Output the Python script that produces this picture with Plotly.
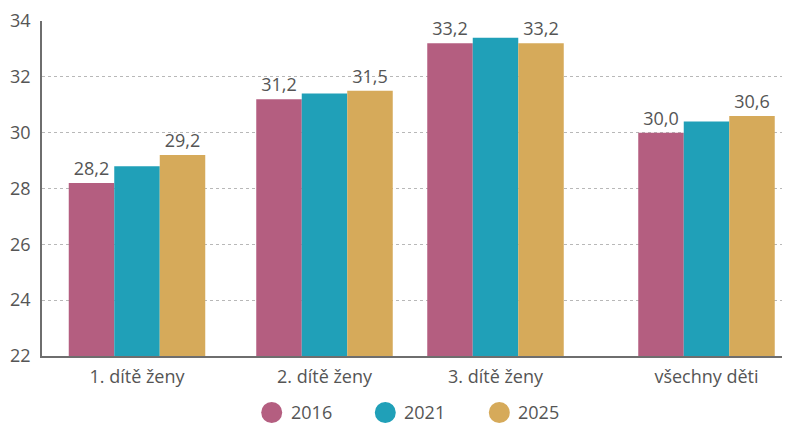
import plotly.graph_objects as go

# ---- data ----
categories = ["1. dítě ženy", "2. dítě ženy", "3. dítě ženy", "všechny děti"]
years = ["2016", "2021", "2025"]
values_2016 = [28.2, 31.2, 33.2, 30.0]
values_2021 = [28.8, 31.4, 33.4, 30.4]
values_2025 = [29.2, 31.5, 33.2, 30.6]
show_labels = [True, False, True]
y_ticks = [22, 24, 26, 28, 30, 32, 34]

# ---- layout constants ----
# page body has an 8px default margin, so the figure is drawn at (8, 8)
OFF = 8
W, H = 790 - OFF, 423 - OFF
L, R, T, B = 42 - OFF, 0, 21 - OFF, 67
group_pos = [95, 282.5, 453.5, 664.5]   # group centres on a pixel-like x scale
colors = ["#B45E80", "#20A0B8", "#D6AA5A"]
text_color = "#555555"
FONT = "Open Sans"

series = [values_2016, values_2021, values_2025]

fig = go.Figure()
for name, vals, col, lab in zip(years, series, colors, show_labels):
    txt = [f"{v:.1f}".replace(".", ",") if lab else "" for v in vals]
    fig.add_trace(go.Bar(
        x=group_pos, y=vals, name=name,
        marker=dict(color=col, line=dict(width=0)),
        text=txt, textposition="outside", cliponaxis=False,
        textfont=dict(family=FONT, size=18, color=text_color),
        showlegend=False, hoverinfo="skip",
    ))

# manual legend with circle markers (page pixel positions)
legend_cx = [271.7, 385.3, 499.3]
legend_cy = 412.5
plot_w = W - L - R
plot_h = H - T - B
for name, col, cx in zip(years, colors, legend_cx):
    xp = (cx - OFF - L) / plot_w
    yp = (H - B - (legend_cy - OFF)) / plot_h
    fig.add_shape(type="circle", xref="paper", yref="paper",
                  xsizemode="pixel", ysizemode="pixel",
                  xanchor=xp, yanchor=yp, x0=-10.5, x1=10.5, y0=-10.5, y1=10.5,
                  fillcolor=col, line=dict(width=0))
    fig.add_annotation(xref="paper", yref="paper",
                       x=(cx + 17 - OFF - L) / plot_w, y=yp, yshift=1,
                       text=name, showarrow=False, xanchor="left", yanchor="middle",
                       font=dict(family=FONT, size=18, color=text_color))

fig.update_layout(
    width=W, height=H,
    margin=dict(l=L, r=R, t=T, b=B, pad=0),
    paper_bgcolor="white", plot_bgcolor="white",
    barmode="group", bargap=0.2018, bargroupgap=0,
    showlegend=False,
    font=dict(family=FONT, size=18, color=text_color),
    xaxis=dict(range=[0, plot_w], tickmode="array", tickvals=group_pos,
               ticktext=categories, showgrid=False, zeroline=False,
               showline=True, linecolor="#6E6E6E", linewidth=1.5, ticks="",
               ticklabelstandoff=4,
               tickfont=dict(family=FONT, size=18, color=text_color),
               fixedrange=True),
    yaxis=dict(range=[22, 34], tickmode="array", tickvals=y_ticks,
               ticktext=[str(t) for t in y_ticks],
               showgrid=True, gridcolor="#B8B8B8", griddash="3px,3px", gridwidth=1,
               zeroline=False, showline=True, linecolor="#6E6E6E", linewidth=1.5,
               ticks="", ticklabelstandoff=6,
               tickfont=dict(family=FONT, size=18, color=text_color),
               fixedrange=True),
)

fig.write_html("out.html")
